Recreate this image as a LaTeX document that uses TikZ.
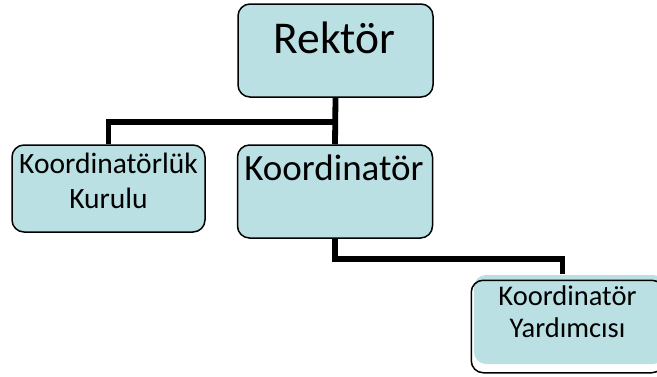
\documentclass[tikz,border=0pt]{standalone}
\usepackage{fontspec}
\setmainfont{Carlito}
\usetikzlibrary{calc}

\definecolor{boxfill}{RGB}{186,224,227}

\begin{document}
\begin{tikzpicture}[x=1pt,y=-1pt,
    box/.style={draw=black, line width=1.5pt, fill=boxfill, rounded corners=12pt, inner sep=0pt},
    conn/.style={draw=black, line width=5.8pt},
    lbl/.style={inner sep=0pt, align=center, anchor=base}]
  \useasboundingbox (0,0) rectangle (657,376);

  % boxes
  \node[box, minimum width=195pt, minimum height=93pt] (rektor) at (335.5,50.5) {};
  \node[box, minimum width=193pt, minimum height=87pt] (kurul) at (108.5,188.5) {};
  \node[box, minimum width=195pt, minimum height=93pt] (koord) at (335,191.5) {};
  \node[box, draw=none, minimum width=191pt, minimum height=89pt] (yard) at (569.5,319.5) {};
  \draw[black, line width=1.5pt, rounded corners=12pt]
    ($ (yard.north west)+(-2,6) $) rectangle ($ (yard.south east)+(-2,8) $);

  % connectors
  \draw[conn] (rektor.south) -- (koord.north);
  \draw[conn] (rektor.south) -- ++(0,24) -| (kurul.north);
  \draw[conn] (koord.south) -- ++(0,20) -| ([xshift=-7pt]yard.north);

  % texts (base = last line)
  \node[lbl, font=\fontsize{45.5}{50}\selectfont] (lrektor) at (334.5,53) {Rektör};
  \node[lbl, font=\fontsize{29.5}{35}\selectfont] (lkurul) at (108.5,208) {Koordinatörlük\\Kurulu};
  \node[lbl, font=\fontsize{37}{42}\selectfont] (lkoord) at (334,180) {Koordinatör};
  \node[lbl, font=\fontsize{28.5}{32}\selectfont] (lyard) at (567.5,337) {Koordinatör\\Yardımcısı};

\end{tikzpicture}
\end{document}
